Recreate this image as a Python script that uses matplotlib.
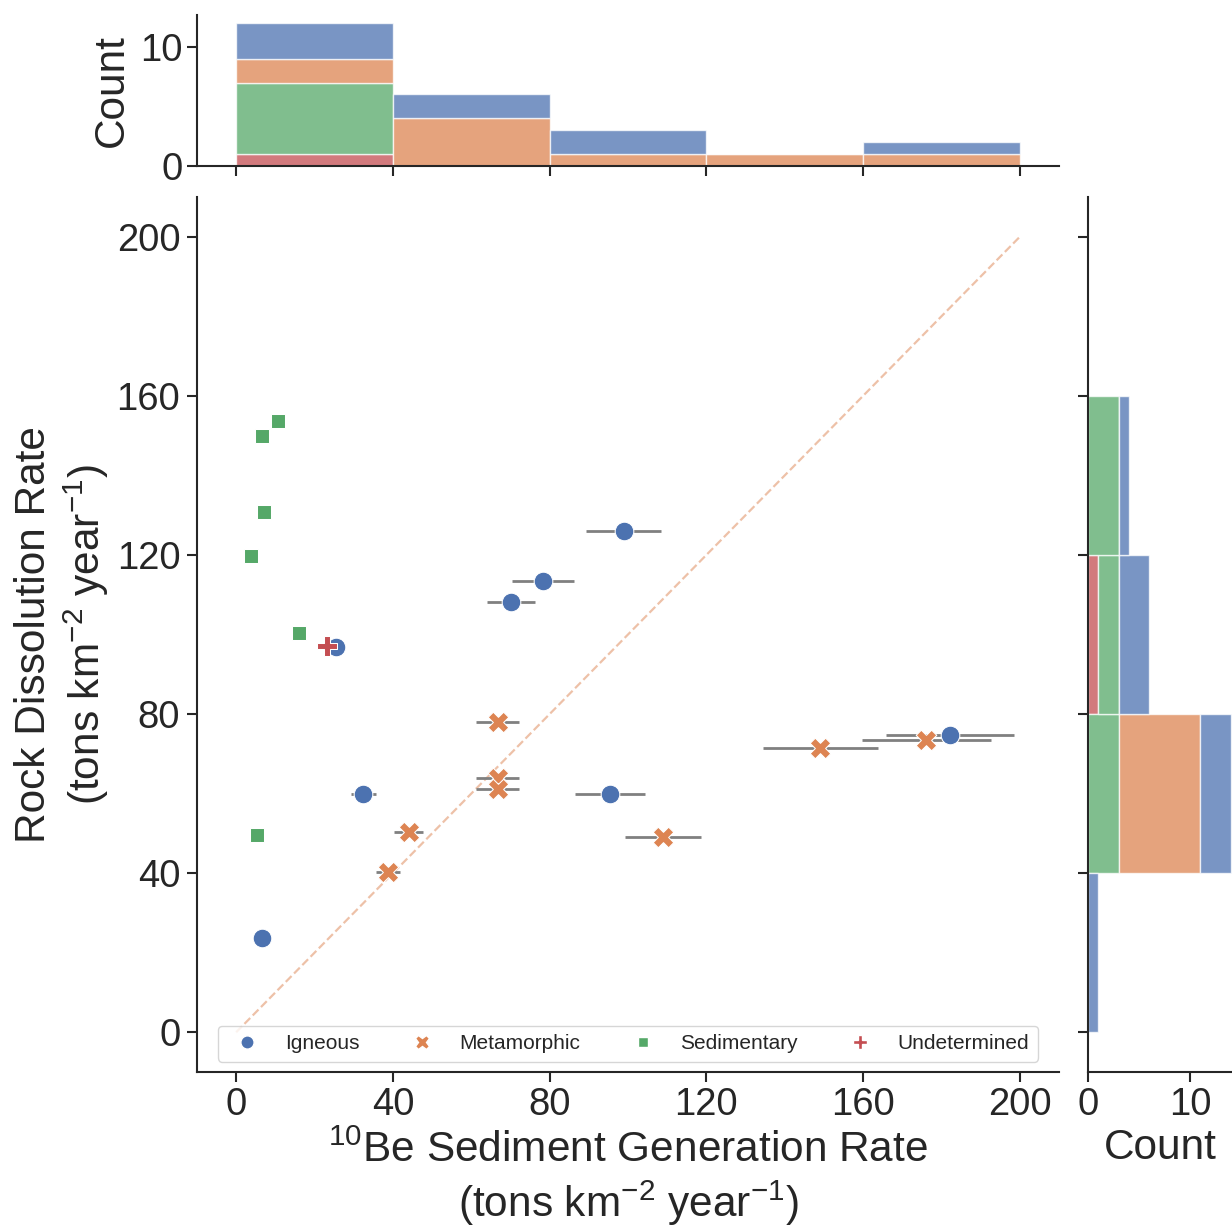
import numpy as np
import matplotlib
matplotlib.use("Agg")
from matplotlib import pyplot as plt
from matplotlib.lines import Line2D

plt.rcParams['font.family'] = ['Liberation Sans', 'DejaVu Sans']
plt.rcParams['mathtext.fontset'] = 'custom'
plt.rcParams['mathtext.rm'] = 'Liberation Sans'
plt.rcParams['mathtext.it'] = 'Liberation Sans:italic'
plt.rcParams['text.color'] = '#262626'
plt.rcParams['axes.labelcolor'] = '#262626'
plt.rcParams['xtick.color'] = '#262626'
plt.rcParams['ytick.color'] = '#262626'

# seaborn "deep" colours
c_ign, c_met, c_sed, c_und = '#4C72B0', '#DD8452', '#55A868', '#C44E52'

# sediment generation rate (x), rock dissolution rate (y), x uncertainty
ign_x = [98.9, 78.2, 70.1, 25.5, 32.4, 95.4, 6.5, 182.1]
ign_y = [126.0, 113.5, 108.2, 96.8, 59.8, 60.0, 23.8, 74.8]
ign_xerr = [9.6, 7.9, 6.2, 0.0, 3.2, 8.9, 0.0, 16.3]

met_x = [66.8, 66.8, 66.8, 44.0, 38.7, 149.1, 176.1, 109.0, 20.0]
met_y = [78.0, 63.8, 61.2, 50.3, 40.3, 71.4, 73.4, 49.1, np.nan]
met_xerr = [5.5, 5.5, 5.5, 3.6, 3.1, 14.6, 16.5, 9.7, np.nan]

sed_x = [10.7, 6.5, 7.2, 3.8, 16.1, 5.4, np.nan, np.nan]
sed_y = [153.8, 149.8, 130.9, 119.8, 100.3, 49.7, 55.0, 65.0]

und_x = [23.3]
und_y = [97.1]

groups = ['Igneous', 'Metamorphic', 'Sedimentary', 'Undetermined']
bin_edges = np.arange(0, 201, 40)
ticks = np.arange(0, 201, 40)


def clean(v):
    v = np.asarray(v, dtype=float)
    return v[~np.isnan(v)]


W, H = 1232, 1227
fig = plt.figure(figsize=(W / 100, H / 100), dpi=100)
ax = fig.add_axes([197 / W, 1 - 1072 / H, 862 / W, 875 / H])
ax_top = fig.add_axes([197 / W, 1 - 166 / H, 862 / W, 151 / H])
ax_right = fig.add_axes([1088 / W, 1 - 1072 / H, 144 / W, 875 / H])

tick_kw = dict(labelsize=27.5, length=7, width=1.5, direction='out')
for a in (ax, ax_top, ax_right):
    for s in ('top', 'right'):
        a.spines[s].set_visible(False)
    for s in ('left', 'bottom'):
        a.spines[s].set_linewidth(1.5)
        a.spines[s].set_color('#262626')
    a.tick_params(**tick_kw)
ax.tick_params(axis='y', pad=5)

# 1:1 line
ax.plot([0, 200], [0, 200], '--', color=c_met, alpha=0.5, lw=1.6, zorder=0)

# x error bars
ax.errorbar(ign_x, ign_y, xerr=ign_xerr, fmt='none', ecolor='grey', elinewidth=2, zorder=1)
ax.errorbar(met_x, met_y, xerr=met_xerr, fmt='none', ecolor='grey', elinewidth=2, zorder=1)

sc = dict(edgecolors='white', linewidths=0.75, zorder=2)
ax.scatter(ign_x, ign_y, marker='o', s=180, color=c_ign, **sc)
ax.scatter(met_x, met_y, marker='X', s=220, color=c_met, **sc)
ax.scatter(sed_x, sed_y, marker=(4, 0, 45), s=180, color=c_sed, **sc)
ax.scatter(und_x, und_y, marker='P', s=220, color=c_und, **sc)

ax.set_xlim(-10, 210)
ax.set_ylim(-10, 210)
ax.set_xticks(ticks)
ax.set_yticks(ticks)
ax.set_xlabel('$^{10}$Be Sediment Generation Rate\n(tons km$^{-2}$ year$^{-1}$)',
              fontsize=30.5, labelpad=6)
ax.set_ylabel('Rock Dissolution Rate\n(tons km$^{-2}$ year$^{-1}$)', fontsize=30.5)

handles = [
    Line2D([], [], ls='none', marker='o', color=c_ign, markeredgecolor='white', markersize=9.5),
    Line2D([], [], ls='none', marker='X', color=c_met, markeredgecolor='white', markersize=10.5),
    Line2D([], [], ls='none', marker=(4, 0, 45), color=c_sed, markeredgecolor='white', markersize=10),
    Line2D([], [], ls='none', marker='P', color=c_und, markeredgecolor='white', markersize=10.5),
]
ax.legend(handles, groups, loc='lower center', ncol=4, fontsize=15, frameon=True)

# marginal histograms, stacked: undetermined at the bottom, igneous on top
hist_cols = [c_und, c_sed, c_met, c_ign]
ax_top.hist([clean(und_x), clean(sed_x), clean(met_x), clean(ign_x)], bins=bin_edges,
            stacked=True, color=hist_cols, alpha=0.75, edgecolor='white', linewidth=1)
ax_right.hist([clean(und_y), clean(sed_y), clean(met_y), clean(ign_y)], bins=bin_edges,
              stacked=True, color=hist_cols, alpha=0.75, edgecolor='white', linewidth=1,
              orientation='horizontal')

ax_top.set_xlim(-10, 210)
ax_top.set_ylim(0, 12.66)
ax_top.set_xticks(ticks)
ax_top.set_xticklabels([])
ax_top.set_yticks([0, 10])
ax_top.set_ylabel('Count', fontsize=30.5, labelpad=6)

ax_right.set_ylim(-10, 210)
ax_right.set_xlim(0, 14.1)
ax_right.set_yticks(ticks)
ax_right.set_yticklabels([])
ax_right.set_xticks([0, 10])
ax_right.set_xlabel('Count', fontsize=30.5)

fig.savefig('out.png', dpi=100)
